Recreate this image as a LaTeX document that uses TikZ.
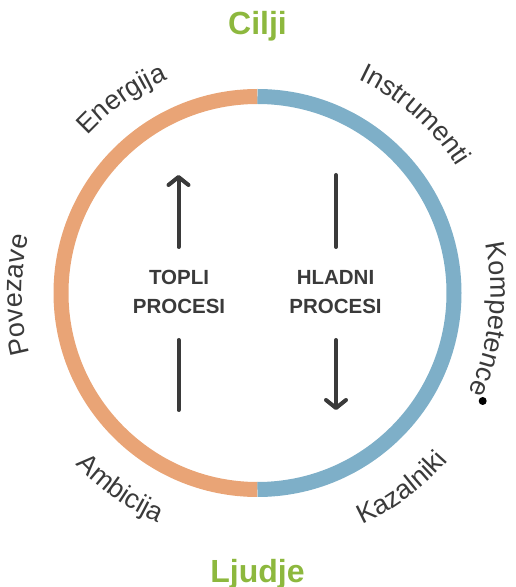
\documentclass[tikz,border=0pt]{standalone}
\usepackage{fontspec}
\setmainfont{Liberation Sans}
\usetikzlibrary{arrows.meta,decorations.text}
\definecolor{warmring}{HTML}{E9A476}
\definecolor{coldring}{HTML}{7EAFC8}
\definecolor{polegreen}{HTML}{8DB83E}
\definecolor{labelgray}{HTML}{3A3A3A}
\newcommand\ringfont{\fontsize{27}{27}\selectfont\color{labelgray}}

\begin{document}
\begin{tikzpicture}[
    x=1pt,
    y=1pt,
    every path/.style={line cap=round,line join=round},
    proclabel/.style={text=labelgray,font=\bfseries\fontsize{20.5}{29}\selectfont,
      align=center,inner sep=0pt},
    poletitle/.style={text=polegreen,font=\bfseries\fontsize{32}{32}\selectfont,
      inner sep=0pt,anchor=base},
    flow/.style={draw=labelgray,line width=4pt},
    flowtip/.style={flow,-{Straight Barb[round,length=8pt,width=20pt]}}
  ]
    \useasboundingbox (0,0) rectangle (515,587);
    \coordinate (hub) at (257.5,294);

    % Two halves of the ring.
    \draw[warmring,line width=15pt,line cap=butt]
      (257.5,490.5) arc[start angle=90,end angle=270,radius=196.5];
    \draw[coldring,line width=15pt,line cap=butt]
      (257.5,97.5) arc[start angle=-90,end angle=90,radius=196.5];

    % Poles.
    \node[poletitle] (cilji) at (257.5,552) {Cilji};
    \node[poletitle] (ljudje) at (257.5,5) {Ljudje};

    % Labels bent along the ring (-1: clockwise, tops outward; 1: tops inward).
    \foreach \ang/\rad/\dir/\word in {125/232/-1/Energija,48.5/236/-1/Instrumenti,
      -6.5/233/-1/Kompetence,180.5/235.5/-1/Povezave,235/250/1/Ambicija,
      -53.5/254/1/Kazalniki}{%
      \path[decorate,decoration={text along path,text align=center,
          text={|\ringfont|\word}}]
        ([shift={({\ang-40*\dir}:\rad)}]hub)
        arc[start angle={\ang-40*\dir},end angle={\ang+40*\dir},radius=\rad];
    }
    \fill[black] (482.7,186) circle (4);

    % Warm and cold processes.
    \node[proclabel] (topli) at (179,295) {TOPLI\\PROCESI};
    \node[proclabel] (hladni) at (335.5,295) {HLADNI\\PROCESI};

    \coordinate (wa) at (178.5,340);
    \coordinate (wb) at (178.5,412);
    \coordinate (wc) at (178.5,247);
    \coordinate (wd) at (178.5,177);
    \coordinate (ca) at (336,412);
    \coordinate (cb) at (336,340);
    \coordinate (cc) at (336,247);
    \coordinate (cd) at (336,177);

    \draw[flowtip] (wa) -- (wb);
    \draw[flow] (wc) -- (wd);
    \draw[flow] (ca) -- (cb);
    \draw[flowtip] (cc) -- (cd);
  \end{tikzpicture}
\end{document}
